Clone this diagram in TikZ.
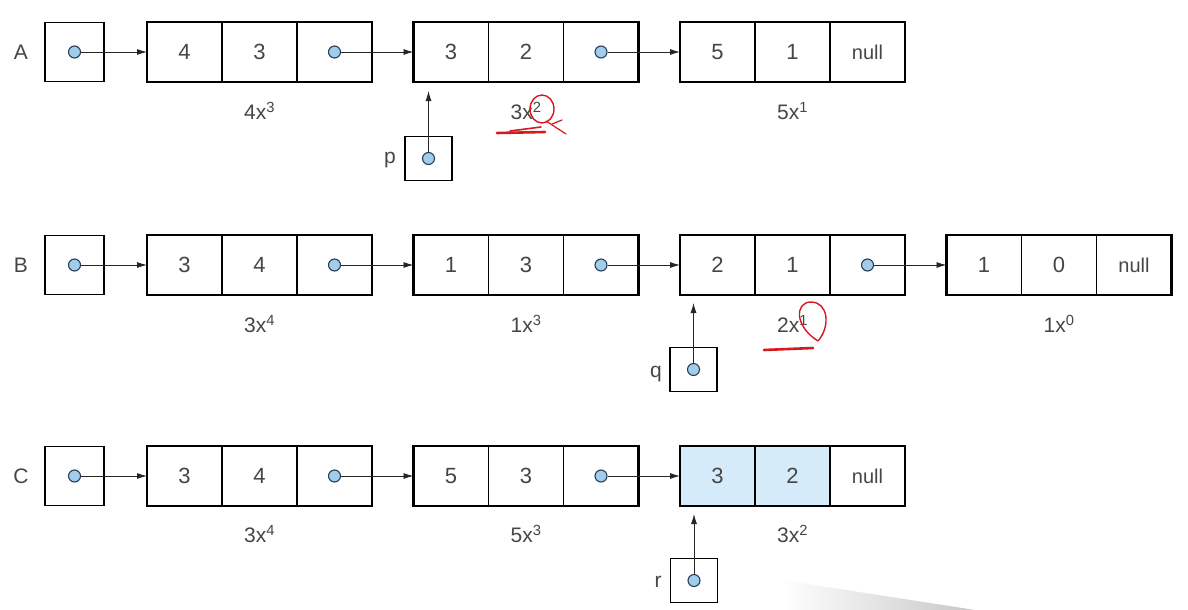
\documentclass[tikz,border=0pt]{standalone}
\usepackage{fontspec}
\setmainfont{Liberation Sans}
\usetikzlibrary{arrows.meta}
\definecolor{txt}{RGB}{70,70,70}
\definecolor{dotfill}{RGB}{160,205,235}
\definecolor{dotline}{RGB}{40,60,85}
\definecolor{shadecell}{RGB}{214,235,249}
\definecolor{redink}{RGB}{215,25,30}
\newcommand\mkpoly[6]{%
  \node[cell] (#1c) at (#2+37.5,#3) {#4};
  \node[cell] (#1e) at (#2+112.5,#3) {#5};
  \node[cell] (#1l) at (#2+187.5,#3) {#6};
  \draw[outerline] (#1c.north west) rectangle (#1l.south east);
}
\newcommand\mkptr[1]{\node[dot] (#1d) at (#1l) {};}
\begin{document}
\begin{tikzpicture}[x=1pt,y=-1pt,
  cell/.style={draw=black, line width=1.1pt, minimum width=75pt, minimum height=60pt, inner sep=0pt, outer sep=0pt, font=\fontsize{22}{24}\selectfont, text=txt},
  headbox/.style={draw=black, line width=1.3pt, minimum width=59pt, minimum height=59pt, inner sep=0pt, outer sep=0pt},
  ptrbox/.style={draw=black, line width=1.3pt, minimum width=47pt, minimum height=44pt, inner sep=0pt, outer sep=0pt},
  dot/.style={circle, draw=dotline, fill=dotfill, line width=1.1pt, minimum size=12pt, inner sep=0pt},
  arr/.style={-{Latex[length=10pt,width=6pt]}, line width=0.9pt, draw=black!85},
  lbl/.style={font=\fontsize{21}{24}\selectfont, text=txt},
  namelbl/.style={font=\fontsize{21}{24}\selectfont, text=txt},
  outerline/.style={line width=2.4pt, draw=black},
  ink/.style={draw=redink, line cap=round}]
\useasboundingbox (0,0) rectangle (1188,610);
\fill[white] (0,0) rectangle (1188,610);
% faint overlay wedge
\shade[left color=white, right color=black!22] (782,580) -- (975,610) -- (782,610) -- cycle;

% ---------- Row A ----------
\node[headbox] (hA) at (74.5,52) {};
\node[namelbl] (nA) at (21,52) {A};
\mkpoly{Aa}{147}{52}{4}{3}{}
\mkpoly{Ab}{413.5}{52}{3}{2}{}
\mkpoly{Ac}{680}{52}{5}{1}{\fontsize{20}{22}\selectfont null}
\node[dot] (hAd) at (hA) {};
\mkptr{Aa}\mkptr{Ab}
\draw[arr] (hAd.east) -- (Aac.west);
\draw[arr] (Aad.east) -- (Abc.west);
\draw[arr] (Abd.east) -- (Acc.west);
\node[lbl] (tA1) at (Aae|-0,111) {4x\textsuperscript{3}};
\node[lbl] (tA2) at (Abe|-0,111) {3x\textsuperscript{2}};
\node[lbl] (tA3) at (Ace|-0,111) {5x\textsuperscript{1}};
% pointer p
\node[ptrbox] (pbox) at (428.5,158.5) {};
\node[dot] (pdot) at (pbox) {};
\node[namelbl] (plbl) at (390,160) {p};
\coordinate (ptip) at (428.5,91);
\draw[arr] (pdot.north) -- (ptip);

% ---------- Row B ----------
\node[headbox] (hB) at (74.5,265) {};
\node[namelbl] (nB) at (21,265) {B};
\mkpoly{Ba}{147}{265}{3}{4}{}
\mkpoly{Bb}{413.5}{265}{1}{3}{}
\mkpoly{Bc}{680}{265}{2}{1}{}
\mkpoly{Bd}{946.5}{265}{1}{0}{\fontsize{20}{22}\selectfont null}
\node[dot] (hBd) at (hB) {};
\mkptr{Ba}\mkptr{Bb}\mkptr{Bc}
\draw[arr] (hBd.east) -- (Bac.west);
\draw[arr] (Bad.east) -- (Bbc.west);
\draw[arr] (Bbd.east) -- (Bcc.west);
\draw[arr] (Bcd.east) -- (Bdc.west);
\node[lbl] (tB1) at (Bae|-0,324) {3x\textsuperscript{4}};
\node[lbl] (tB2) at (Bbe|-0,324) {1x\textsuperscript{3}};
\node[lbl] (tB3) at (Bce|-0,324) {2x\textsuperscript{1}};
\node[lbl] (tB4) at (Bde|-0,324) {1x\textsuperscript{0}};
% pointer q
\node[ptrbox] (qbox) at (693.5,369.5) {};
\node[dot] (qdot) at (qbox) {};
\node[namelbl] (qlbl) at (656,374) {q};
\coordinate (qtip) at (693.5,303);
\draw[arr] (qdot.north) -- (qtip);

% ---------- Row C ----------
\node[headbox] (hC) at (74.5,476) {};
\node[namelbl] (nC) at (21,476) {C};
\mkpoly{Ca}{147}{476}{3}{4}{}
\mkpoly{Cb}{413.5}{476}{5}{3}{}
\node[cell, fill=shadecell] (Ccc) at (680+37.5,476) {3};
\node[cell, fill=shadecell] (Cce) at (680+112.5,476) {2};
\node[cell] (Ccl) at (680+187.5,476) {\fontsize{20}{22}\selectfont null};
\draw[outerline] (Ccc.north west) rectangle (Ccl.south east);
\node[dot] (hCd) at (hC) {};
\mkptr{Ca}\mkptr{Cb}
\draw[arr] (hCd.east) -- (Cac.west);
\draw[arr] (Cad.east) -- (Cbc.west);
\draw[arr] (Cbd.east) -- (Ccc.west);
\node[lbl] (tC1) at (Cae|-0,534) {3x\textsuperscript{4}};
\node[lbl] (tC2) at (Cbe|-0,534) {5x\textsuperscript{3}};
\node[lbl] (tC3) at (Cce|-0,534) {3x\textsuperscript{2}};
% pointer r
\node[ptrbox] (rbox) at (694,580.5) {};
\node[dot] (rdot) at (rbox) {};
\node[namelbl] (rlbl) at (658,582) {r};
\coordinate (rtip) at (694,514);
\draw[arr] (rdot.north) -- (rtip);

% ---------- red handwriting ----------
\draw[ink, line width=1.4pt] (542,109) ellipse (12pt and 14pt);
\draw[ink, line width=1.2pt] (546,121) -- (566,134);
\draw[ink, line width=1.2pt] (552,124) -- (562,120);
\draw[ink, line width=2.6pt] (497,133) -- (545,132);
\draw[ink, line width=1.6pt] (510,131) -- (541,127);
\draw[ink, line width=1.4pt] (818,341) .. controls (794,326) and (795,302) .. (811,302) .. controls (828,302) and (831,326) .. (818,341);
\draw[ink, line width=2.6pt] (764,350) -- (813,348);
\end{tikzpicture}
\end{document}
